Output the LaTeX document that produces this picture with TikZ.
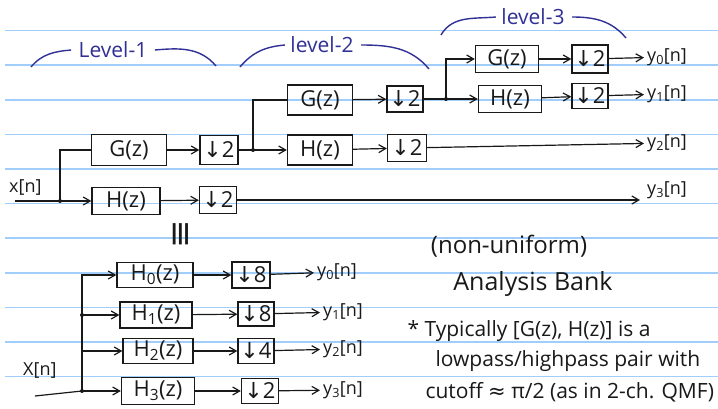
\documentclass[tikz,border=0pt]{standalone}
\usepackage{fontspec}
\setmainfont{Open Sans}
\newfontfamily\symfont{DejaVu Sans}
\newcommand{\dnsmp}[1]{{\symfont ↓}#1}
\usetikzlibrary{arrows.meta, positioning}
\definecolor{ink}{RGB}{25,25,25}
\definecolor{penblue}{RGB}{48,48,150}
\definecolor{ruleblue}{RGB}{160,205,250}

\begin{document}
\begin{tikzpicture}[x=1pt, y=-1pt,
  rule/.style={ruleblue, line width=1.6pt},
  blk/.style={draw=ink, line width=1.3pt, inner sep=0pt, text=ink, font=\fontsize{22}{26}\selectfont},
  wire/.style={ink, line width=1.2pt},
  arr/.style={wire, -{Straight Barb[length=7pt, width=8pt]}},
  lvl/.style={penblue, line width=1.4pt},
  lvltext/.style={text=penblue, font=\fontsize{21}{25}\selectfont},
  sig/.style={text=ink, anchor=west, inner sep=3pt, font=\fontsize{18}{22}\selectfont},
  note/.style={text=ink, font=\fontsize{21}{25}\selectfont}
]
\useasboundingbox (0,0) rectangle (718,408);
\fill[white] (0,0) rectangle (718,408);
\foreach \r in {0,...,10}
  \draw[rule] (5,30.5+34.6*\r) -- (718,30.5+34.6*\r);

\node[lvltext] (lv1) at (113,50) {Level-1};
\draw[lvl] (31,67) to[out=50,in=185] ([xshift=-4]lv1.west);
\draw[lvl] ([xshift=4]lv1.east) to[out=5,in=130] (216,66);
\node[lvltext] (lv2) at (322,45) {level-2};
\draw[lvl] (240,67) to[out=50,in=185] ([xshift=-2]lv2.west);
\draw[lvl] ([xshift=4]lv2.east) to[out=0,in=130] (429,69);
\node[lvltext] (lv3) at (533,17) {level-3};
\draw[lvl] (441,35) to[out=60,in=185] ([xshift=-2]lv3.west);
\draw[lvl] ([xshift=4]lv3.east) to[out=0,in=130] (626,38);

\node[sig] (x1) at (6,187) {x[n]};
\node[blk, minimum width=75, minimum height=31] (g1) at (129,150) {G(z)};
\node[blk, minimum width=68, minimum height=27] (h1) at (126,201) {H(z)};
\node[blk, minimum width=38, minimum height=29] (d1) at (219,150) {\dnsmp{2}};
\node[blk, minimum width=37, minimum height=27] (d2) at (218,200) {\dnsmp{2}};
\node[blk, minimum width=65, minimum height=30] (g2) at (320,100) {G(z)};
\node[blk, minimum width=65, minimum height=30] (h2) at (320,150) {H(z)};
\node[blk, minimum width=36, minimum height=26] (d3) at (405,99) {\dnsmp{2}};
\node[blk, minimum width=39, minimum height=27] (d4) at (407,148) {\dnsmp{2}};
\node[blk, minimum width=63, minimum height=27] (g3) at (507,59) {G(z)};
\node[blk, minimum width=63, minimum height=27] (h3) at (510,99) {H(z)};
\node[blk, minimum width=36, minimum height=28] (d5) at (590,59) {\dnsmp{2}};
\node[blk, minimum width=36, minimum height=25] (d6) at (590,96) {\dnsmp{2}};
\node[sig] (y0) at (644,57) {y\textsubscript{0}[n]};
\node[sig] (y1) at (644,94) {y\textsubscript{1}[n]};
\node[sig] (y2) at (644,143) {y\textsubscript{2}[n]};
\node[sig] (y3) at (644,190) {y\textsubscript{3}[n]};

\coordinate (xin) at (15,201);
\coordinate (b1) at (60,201);
\coordinate (b2) at (253,150);
\coordinate (b3) at (446,99);
\draw[wire] (xin) -- (b1);
\draw[arr] (b1) -- (h1);
\draw[wire] (b1) |- (g1);
\draw[arr] (g1) -- (d1);
\draw[arr] (h1) -- (d2);
\draw[wire] (d1) -- (b2);
\draw[arr] (b2) -- (h2);
\draw[wire] (b2) |- (g2);
\draw[arr] (g2) -- (d3);
\draw[arr] (h2) -- (d4);
\draw[wire] (d3) -- (b3);
\draw[arr] (b3) -- (h3);
\draw[arr] (b3) |- (g3);
\draw[arr] (g3) -- (d5);
\draw[arr] (h3) -- (d6);
\draw[arr] (d5) -- (y0);
\draw[arr] (d6) -- (y1);
\draw[arr] (d4) -- (y2);
\draw[arr] (d2) -- ([xshift=-4]d2 -| y3.west);
\foreach \p in {b1,b2,b3}
  \fill[ink] (\p) circle (2);

\node[note, rotate=90, font=\symfont\fontsize{34}{38}\selectfont] (eq) at (182,234) {≡};

\node[sig] (x2) at (20,370) {X[n]};
\node[blk, minimum width=76, minimum height=25] (hh0) at (155,275) {H\textsubscript{0}(z)};
\node[blk, minimum width=72, minimum height=26] (hh1) at (156,315) {H\textsubscript{1}(z)};
\node[blk, minimum width=70, minimum height=25] (hh2) at (158,351) {H\textsubscript{2}(z)};
\node[blk, minimum width=73, minimum height=27] (hh3) at (158,391) {H\textsubscript{3}(z)};
\node[blk, minimum width=38, minimum height=26] (dd0) at (251,275) {\dnsmp{8}};
\node[blk, minimum width=36, minimum height=24] (dd1) at (256,314) {\dnsmp{8}};
\node[blk, minimum width=36, minimum height=25] (dd2) at (256,351) {\dnsmp{4}};
\node[blk, minimum width=37, minimum height=25] (dd3) at (260,391) {\dnsmp{2}};
\node[sig] (yy0) at (314,272) {y\textsubscript{0}[n]};
\node[sig] (yy1) at (320,312) {y\textsubscript{1}[n]};
\node[sig] (yy2) at (320,349) {y\textsubscript{2}[n]};
\node[sig] (yy3) at (320,390) {y\textsubscript{3}[n]};

\coordinate (xin2) at (35,396);
\coordinate (b5) at (82,391);
\coordinate (b6) at (82,315);
\coordinate (b7) at (82,351);
\draw[wire] (xin2) -- (b5);
\draw[arr] (b5) |- (hh0);
\draw[arr] (b6) -- (hh1);
\draw[arr] (b7) -- (hh2);
\draw[arr] (b5) -- (hh3);
\draw[arr] (hh0) -- (dd0);
\draw[arr] (hh1) -- (dd1);
\draw[arr] (hh2) -- (dd2);
\draw[arr] (hh3) -- (dd3);
\draw[arr] (dd0) -- (yy0);
\draw[arr] (dd1) -- (yy1);
\draw[arr] (dd2) -- (yy2);
\draw[arr] (dd3) -- (yy3);
\foreach \p in {b5,b6}
  \fill[ink] (\p) circle (2);

\node[note, font=\fontsize{24}{28}\selectfont] (nu) at (509,246) {(non-uniform)};
\node[note, font=\fontsize{25}{30}\selectfont] (ab) at (533,284) {Analysis Bank};
\node[note, anchor=west] (t1) at (404,331) {* Typically [G(z), H(z)] is a};
\node[note, anchor=west] (t2) at (432,361) {lowpass/highpass pair with};
\node[note, anchor=west] (t3) at (422,392) {cutoff {\symfont ≈} π/2 (as in 2-ch. QMF)};
\end{tikzpicture}
\end{document}
